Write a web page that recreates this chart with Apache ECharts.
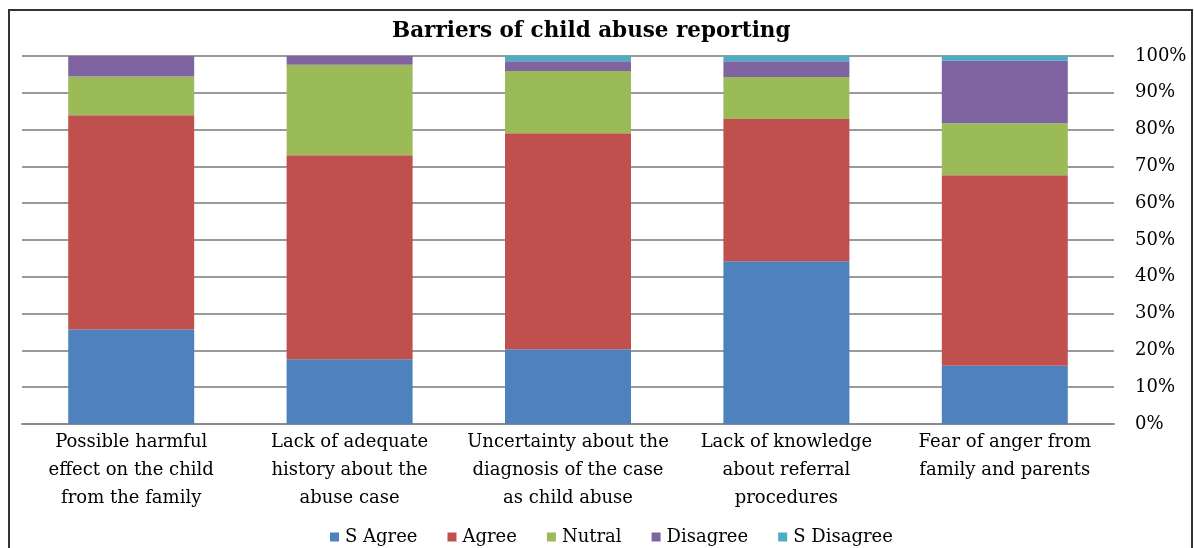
<!DOCTYPE html>
<html>
<head>
<meta charset="utf-8">
<script src="https://cdn.jsdelivr.net/npm/echarts@6/dist/echarts.min.js"></script>
<style>
  html, body { margin: 0; padding: 0; background: #fff; }
  #chart { width: 1194px; height: 548px; }
</style>
</head>
<body>
<div id="chart"></div>
<script>
// Barriers to reporting, share of respondents per answer (percent)
const categories = [
  'Possible harmful\neffect on the child\nfrom the family',
  'Lack of adequate\nhistory about the\nabuse case',
  'Uncertainty about the\ndiagnosis of the case\nas child abuse',
  'Lack of knowledge\nabout referral\nprocedures',
  'Fear of anger from\nfamily and parents'
];
const sAgree    = [25.7, 17.6, 20.3, 44.2, 15.8];
const agree     = [58.2, 55.4, 58.7, 38.7, 51.8];
const nutral    = [10.5, 24.6, 16.9, 11.4, 14.1];
const disagree  = [5.6, 2.4, 2.7, 4.3, 17.0];
const sDisagree = [0, 0, 1.4, 1.4, 1.3];

const seriesNames = ['S Agree', 'Agree', 'Nutral', 'Disagree', 'S Disagree'];
const seriesData = [sAgree, agree, nutral, disagree, sDisagree];
const colors = ['#4F81BD', '#C0504D', '#9BBB59', '#8064A2', '#4BACC6'];

const FONT = '"DejaVu Serif", "Liberation Serif", serif';

const chart = echarts.init(document.getElementById('chart'), null, { renderer: 'canvas' });

chart.setOption({
  animation: false,
  backgroundColor: '#fff',
  color: colors,
  title: {
    text: 'Barriers of child abuse reporting',
    left: 387,
    top: 15,
    textStyle: { fontFamily: FONT, fontSize: 21.5, fontWeight: 'bold', color: '#000' }
  },
  legend: {
    bottom: -3,
    left: 325,
    itemWidth: 9,
    itemHeight: 9,
    itemGap: 30,
    icon: 'rect',
    textStyle: { fontFamily: FONT, fontSize: 18, color: '#000', padding: [0, 0, 0, 1] },
    data: seriesNames
  },
  grid: { left: 22, right: 80, top: 56, bottom: 124, containLabel: false },
  xAxis: {
    type: 'category',
    data: categories,
    axisTick: { show: false },
    axisLine: { lineStyle: { color: '#8c8c8c', width: 2 } },
    axisLabel: {
      interval: 0,
      margin: 4,
      lineHeight: 28,
      fontFamily: FONT,
      fontSize: 18,
      color: '#000'
    }
  },
  yAxis: {
    type: 'value',
    position: 'right',
    min: 0,
    max: 100,
    interval: 10,
    axisLine: { show: false },
    axisTick: { show: false },
    splitLine: { lineStyle: { color: '#9a9a9a', width: 2 } },
    axisLabel: {
      margin: 21,
      formatter: '{value}%',
      fontFamily: FONT,
      fontSize: 18,
      color: '#000'
    }
  },
  series: seriesNames.map((name, i) => ({
    name,
    type: 'bar',
    stack: 'total',
    barWidth: 126,
    data: seriesData[i],
    itemStyle: { color: colors[i] }
  })),
  graphic: [{
    type: 'rect',
    silent: true,
    z: 100,
    shape: { x: 9, y: 10, width: 1183, height: 600 },
    style: { fill: 'none', stroke: '#333', lineWidth: 2 }
  }]
});
</script>
</body>
</html>
